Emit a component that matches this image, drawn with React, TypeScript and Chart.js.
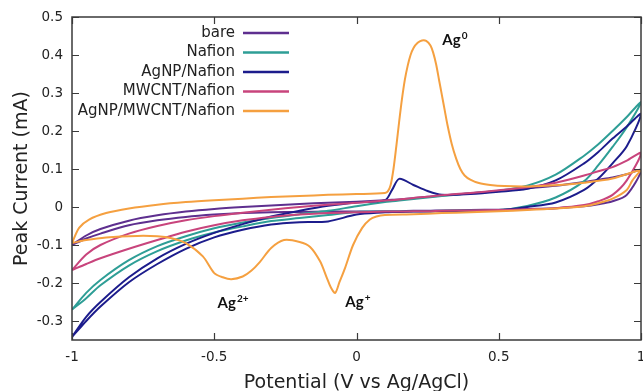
import React, { useEffect, useRef } from "react";
import { Chart, registerables } from "chart.js";

Chart.register(...registerables);

// ---------- data ----------
// shared potential grid (V vs Ag/AgCl) for the four simple voltammograms
const potentialGrid = [-1, -0.95, -0.9, -0.8, -0.7, -0.6, -0.5, -0.4, -0.3, -0.2, -0.1, 0, 0.1, 0.125, 0.15, 0.2, 0.25, 0.3, 0.4, 0.5, 0.6, 0.7, 0.8, 0.85, 0.9, 0.95, 1];

// forward (upper) and reverse (lower) branch currents, mA, on potentialGrid
const bareForward = [-0.1, -0.075, -0.058, -0.036, -0.022, -0.012, -0.005, 0.0, 0.004, 0.008, 0.011, 0.014, 0.018, 0.019, 0.02, 0.023, 0.027, 0.03, 0.036, 0.042, 0.049, 0.056, 0.066, 0.072, 0.078, 0.086, 0.097];
const bareReverse = [-0.1, -0.083, -0.07, -0.048, -0.035, -0.026, -0.02, -0.016, -0.014, -0.013, -0.012, -0.012, -0.011, -0.011, -0.011, -0.01, -0.01, -0.009, -0.008, -0.007, -0.005, -0.003, 0.002, 0.007, 0.015, 0.032, 0.097];

const nafionForward = [-0.27, -0.226, -0.192, -0.14, -0.103, -0.077, -0.056, -0.041, -0.029, -0.019, -0.01, 0.002, 0.013, 0.015, 0.017, 0.021, 0.025, 0.029, 0.036, 0.043, 0.056, 0.085, 0.135, 0.165, 0.2, 0.237, 0.276];
const nafionReverse = [-0.27, -0.24, -0.206, -0.154, -0.116, -0.088, -0.067, -0.051, -0.037, -0.029, -0.021, -0.013, -0.012, -0.012, -0.012, -0.011, -0.011, -0.01, -0.009, -0.008, 0.003, 0.025, 0.068, 0.11, 0.158, 0.21, 0.276];

const agnpNafionForward = [-0.342, -0.289, -0.25, -0.185, -0.135, -0.097, -0.068, -0.045, -0.025, -0.01, 0.003, 0.012, 0.018, 0.045, 0.074, 0.058, 0.042, 0.032, 0.034, 0.04, 0.048, 0.07, 0.115, 0.145, 0.18, 0.212, 0.245];
const agnpNafionReverse = [-0.342, -0.3, -0.262, -0.198, -0.15, -0.11, -0.08, -0.06, -0.046, -0.04, -0.038, -0.02, -0.014, -0.013, -0.013, -0.012, -0.012, -0.011, -0.01, -0.009, 0.0, 0.012, 0.045, 0.075, 0.115, 0.16, 0.245];

const mwcntForward = [-0.166, -0.125, -0.1, -0.07, -0.05, -0.035, -0.024, -0.015, -0.007, 0.0, 0.006, 0.011, 0.017, 0.018, 0.02, 0.024, 0.027, 0.031, 0.037, 0.044, 0.052, 0.064, 0.083, 0.094, 0.105, 0.122, 0.142];
const mwcntReverse = [-0.166, -0.15, -0.135, -0.11, -0.087, -0.065, -0.048, -0.035, -0.026, -0.02, -0.016, -0.014, -0.012, -0.012, -0.012, -0.011, -0.011, -0.01, -0.009, -0.008, -0.006, -0.003, 0.005, 0.015, 0.032, 0.07, 0.142];

// AgNP/MWCNT/Nafion has its own potentials (peaks need more points)
const hybridForwardV = [-1, -0.975, -0.94, -0.88, -0.8, -0.7, -0.6, -0.5, -0.4, -0.3, -0.2, -0.1, 0, 0.1, 0.11, 0.12, 0.13, 0.14, 0.15, 0.16, 0.17, 0.18, 0.19, 0.2, 0.215, 0.23, 0.245, 0.26, 0.27, 0.28, 0.29, 0.3, 0.31, 0.32, 0.335, 0.35, 0.365, 0.38, 0.4, 0.43, 0.47, 0.52, 0.6, 0.7, 0.8, 0.9, 1];
const hybridForwardI = [-0.095, -0.055, -0.033, -0.016, -0.004, 0.006, 0.013, 0.018, 0.022, 0.026, 0.029, 0.032, 0.034, 0.037, 0.041, 0.058, 0.1, 0.16, 0.225, 0.285, 0.335, 0.372, 0.4, 0.418, 0.432, 0.438, 0.437, 0.425, 0.405, 0.375, 0.335, 0.295, 0.255, 0.215, 0.165, 0.128, 0.1, 0.083, 0.072, 0.063, 0.058, 0.055, 0.054, 0.057, 0.064, 0.075, 0.097];
const hybridReverseV = [1, 0.97, 0.95, 0.9, 0.85, 0.8, 0.7, 0.6, 0.5, 0.4, 0.3, 0.2, 0.1, 0.07, 0.047, 0.02, -0.012, -0.04, -0.06, -0.075, -0.09, -0.105, -0.128, -0.163, -0.2, -0.255, -0.3, -0.34, -0.37, -0.4, -0.44, -0.47, -0.5, -0.54, -0.6, -0.65, -0.7, -0.77, -0.88, -0.95, -1];
const hybridReverseI = [0.097, 0.07, 0.045, 0.022, 0.01, 0.002, -0.004, -0.008, -0.011, -0.014, -0.016, -0.019, -0.021, -0.025, -0.033, -0.055, -0.1, -0.16, -0.198, -0.226, -0.212, -0.185, -0.143, -0.105, -0.092, -0.087, -0.108, -0.145, -0.168, -0.183, -0.19, -0.185, -0.174, -0.13, -0.095, -0.082, -0.077, -0.076, -0.08, -0.087, -0.095];

const seriesLabels = ["bare", "Nafion", "AgNP/Nafion", "MWCNT/Nafion", "AgNP/MWCNT/Nafion"];
const seriesColors = ["#5e2f8f", "#2e9e96", "#1c1c8c", "#c8447c", "#f5a040"];

const xTicks = [-1, -0.5, 0, 0.5, 1];
const yTicks = [-0.3, -0.2, -0.1, 0, 0.1, 0.2, 0.3, 0.4, 0.5];

const xTitle = "Potential (V vs Ag/AgCl)";
const yTitle = "Peak Current (mA)";

// peak annotations: base text, superscript, anchor (V, mA)
const peakBase = ["Ag", "Ag", "Ag"];
const peakSup = ["0", "2+", "+"];
const peakV = [0.346, -0.434, 0.005];
const peakI = [0.439, -0.253, -0.25];

// ---------- helpers ----------
const FONT = "'DejaVu Sans', Verdana, sans-serif";

function loop(fwd: number[], rev: number[]) {
  const a = potentialGrid.map((v, i) => ({ x: v, y: fwd[i] }));
  const b = potentialGrid.map((v, i) => ({ x: v, y: rev[i] })).reverse().slice(1);
  return a.concat(b);
}
function loop2(fv: number[], fi: number[], rv: number[], ri: number[]) {
  const a = fv.map((v, i) => ({ x: v, y: fi[i] }));
  const b = rv.map((v, i) => ({ x: v, y: ri[i] })).slice(1);
  return a.concat(b);
}
const fmt = (v: number) => String(Number(v.toFixed(2)));

const decorPlugin = {
  id: "decor",
  afterDatasetsDraw(chart: any) {
    const { ctx, chartArea, scales } = chart;
    const { left, right, top, bottom } = chartArea;
    const xs = scales.x;
    const ys = scales.y;
    ctx.save();
    // frame
    ctx.strokeStyle = "#3a3a3a";
    ctx.lineWidth = 1.5;
    ctx.strokeRect(left, top, right - left, bottom - top);
    // inward ticks on all four sides
    ctx.lineWidth = 1.2;
    const tl = 7;
    ctx.beginPath();
    xTicks.forEach((v) => {
      const p = Math.round(xs.getPixelForValue(v)) + 0.5;
      ctx.moveTo(p, bottom);
      ctx.lineTo(p, bottom - tl);
      ctx.moveTo(p, top);
      ctx.lineTo(p, top + tl);
    });
    yTicks.forEach((v) => {
      const p = Math.round(ys.getPixelForValue(v)) + 0.5;
      ctx.moveTo(left, p);
      ctx.lineTo(left + tl, p);
      ctx.moveTo(right, p);
      ctx.lineTo(right - tl, p);
    });
    ctx.stroke();

    // legend (text right-aligned, sample line on the right)
    ctx.font = `15px ${FONT}`;
    ctx.textAlign = "right";
    ctx.textBaseline = "middle";
    const textRight = left + 163;
    const row0 = top + 16;
    const rowH = 19.5;
    seriesLabels.forEach((lab, i) => {
      const yy = row0 + i * rowH;
      ctx.fillStyle = "#222";
      ctx.fillText(lab, textRight, yy);
      ctx.strokeStyle = seriesColors[i];
      ctx.lineWidth = 2.5;
      ctx.beginPath();
      ctx.moveTo(textRight + 8, yy);
      ctx.lineTo(textRight + 54, yy);
      ctx.stroke();
    });

    // peak annotations
    ctx.fillStyle = "#111";
    ctx.textBaseline = "alphabetic";
    ctx.textAlign = "left";
    peakBase.forEach((b, i) => {
      const cx = xs.getPixelForValue(peakV[i]);
      const cy = ys.getPixelForValue(peakI[i]);
      ctx.font = `bold 15px Lato, ${FONT}`;
      const wb = ctx.measureText(b).width;
      ctx.font = `bold 10px Lato, ${FONT}`;
      const ws = ctx.measureText(peakSup[i]).width;
      const x0 = cx - (wb + ws + 1) / 2;
      const base = cy + 5;
      ctx.font = `bold 15px Lato, ${FONT}`;
      ctx.fillText(b, x0, base);
      ctx.font = `bold 10px Lato, ${FONT}`;
      ctx.fillText(peakSup[i], x0 + wb + 1, base - 6);
    });
    ctx.restore();
  },
};

export default function App() {
  const ref = useRef<HTMLCanvasElement | null>(null);
  useEffect(() => {
    if (!ref.current) return;
    const loops = [
      loop(bareForward, bareReverse),
      loop(nafionForward, nafionReverse),
      loop(agnpNafionForward, agnpNafionReverse),
      loop(mwcntForward, mwcntReverse),
      loop2(hybridForwardV, hybridForwardI, hybridReverseV, hybridReverseI),
    ];
    const chart = new Chart(ref.current, {
      type: "scatter",
      data: {
        datasets: loops.map((d, i) => ({
          label: seriesLabels[i],
          data: d,
          showLine: true,
          borderColor: seriesColors[i],
          backgroundColor: seriesColors[i],
          borderWidth: 2,
          pointRadius: 0,
          tension: 0.3,
          fill: false,
          order: loops.length - i,
        })),
      },
      options: {
        responsive: false,
        animation: false,
        events: [],
        layout: { padding: { left: 0, right: 2, top: 17, bottom: 0 } },
        plugins: { legend: { display: false }, tooltip: { enabled: false } },
        scales: {
          x: {
            type: "linear",
            min: -1,
            max: 1,
            afterBuildTicks: (s: any) => {
              s.ticks = xTicks.map((v) => ({ value: v }));
            },
            afterFit: (s: any) => {
              s.height = 51;
              s.paddingLeft = 0;
              s.paddingRight = 0;
            },
            grid: { display: false, drawTicks: false },
            border: { display: false },
            ticks: {
              autoSkip: false,
              maxRotation: 0,
              padding: 9,
              color: "#222",
              font: { family: FONT, size: 13.5 },
              callback: (v: any) => fmt(Number(v)),
            },
            title: {
              display: true,
              text: xTitle,
              color: "#222",
              font: { family: FONT, size: 19 },
              padding: { top: 0, bottom: -3 },
            },
          },
          y: {
            type: "linear",
            min: -0.35,
            max: 0.5,
            afterBuildTicks: (s: any) => {
              s.ticks = yTicks.map((v) => ({ value: v }));
            },
            afterFit: (s: any) => {
              s.width = 72;
              s.paddingTop = 0;
              s.paddingBottom = 0;
            },
            grid: { display: false, drawTicks: false },
            border: { display: false },
            ticks: {
              autoSkip: false,
              padding: 9,
              color: "#222",
              font: { family: FONT, size: 13.5 },
              callback: (v: any) => fmt(Number(v)),
            },
            title: {
              display: true,
              text: yTitle,
              color: "#222",
              font: { family: FONT, size: 19 },
              padding: { top: 11, bottom: 0 },
            },
          },
        },
      },
      plugins: [decorPlugin],
    });
    return () => chart.destroy();
  }, []);
  return (
    <div style={{ position: "fixed", left: 0, top: 0, width: 643, height: 391, background: "#fff" }}>
      <canvas ref={ref} width={643} height={391} style={{ display: "block" }} />
    </div>
  );
}
